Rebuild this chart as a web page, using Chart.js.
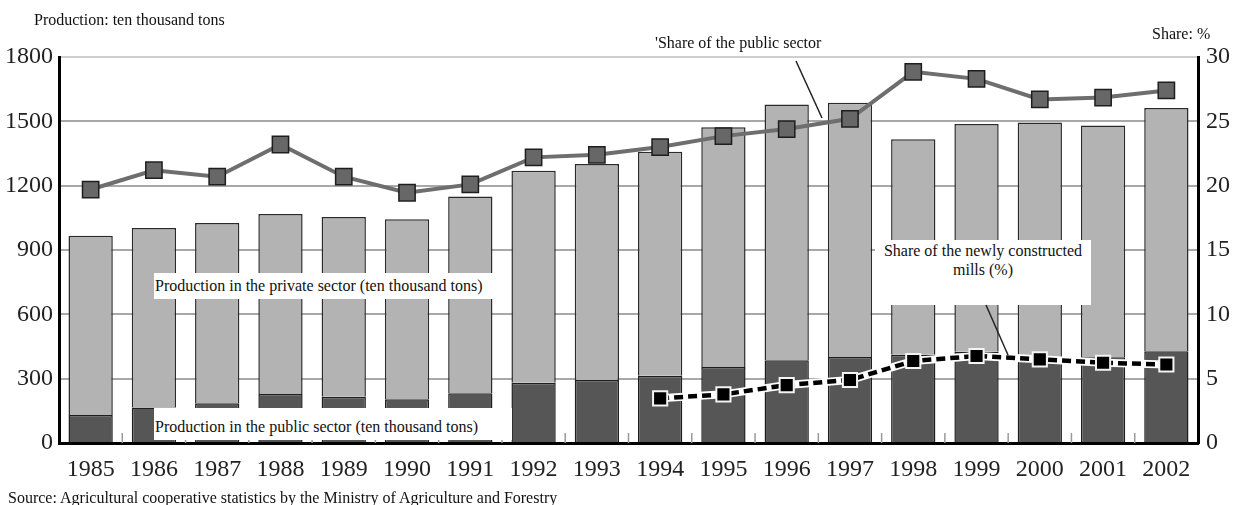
<!DOCTYPE html>
<html>
<head>
<meta charset="utf-8">
<script src="https://cdn.jsdelivr.net/npm/chart.js@4.4.1/dist/chart.umd.min.js"></script>
<style>
  html, body { margin: 0; padding: 0; background: #fff; }
  #wrap { position: relative; width: 1241px; height: 505px; overflow: hidden; font-family: "Liberation Serif", serif; color: #111; }
  #c { position: absolute; left: 0; top: 0; }
  .t { position: absolute; white-space: nowrap; line-height: 1; }
  .box { position: absolute; background: #fff; }
  svg { position: absolute; left: 0; top: 0; }
</style>
</head>
<body>
<div id="wrap">
  <canvas id="c" width="1241" height="505"></canvas>
  <div class="t" style="left:34px; top:12px; font-size:16px;">Production: ten thousand tons</div>
  <div class="t" style="left:1152px; top:26px; font-size:16px;">Share: %</div>
  <div class="t" style="left:655px; top:35px; font-size:16px;">'Share of the public sector</div>
  <div class="box" style="left:154px; top:273px; width:339px; height:26px;"></div>
  <div class="t" style="left:155px; top:278px; font-size:16px;">Production in the private sector (ten thousand tons)</div>
  <div class="box" style="left:154px; top:408px; width:358px; height:32px;"></div>
  <div class="t" style="left:155px; top:419px; font-size:16px;">Production in the public sector (ten thousand tons)</div>
  <div class="box" style="left:875px; top:240px; width:216px; height:65px;"></div>
  <div class="t" style="left:875px; width:216px; text-align:center; top:241px; font-size:16px; line-height:19px; white-space:normal;">Share of the newly constructed<br>mills (%)</div>
  <div class="t" style="left:8px; top:490px; font-size:16px;">Source: Agricultural cooperative statistics by the Ministry of Agriculture and Forestry</div>
  <svg width="1241" height="505">
    <line x1="796" y1="61" x2="822" y2="118" stroke="#222" stroke-width="1.5"/>
    <line x1="986" y1="305" x2="1008" y2="355" stroke="#222" stroke-width="1.5"/>
  </svg>
</div>
<script>
const years = ['1985','1986','1987','1988','1989','1990','1991','1992','1993','1994','1995','1996','1997','1998','1999','2000','2001','2002'];
const publicProduction = [130,165,185,228,216,204,232,281,294,314,354,386,401,412,426,395,400,428];
const privateProduction = [836,838,841,840,838,839,917,989,1007,1044,1118,1192,1186,1004,1061,1099,1080,1134];
const publicShare = [19.7,21.2,20.7,23.2,20.7,19.45,20.1,22.2,22.4,23.0,23.85,24.4,25.2,28.85,28.3,26.7,26.85,27.4];
const newMillsShare = [null,null,null,null,null,null,null,null,null,3.47,3.78,4.5,4.9,6.37,6.76,6.5,6.24,6.1];
const leftTicks = [0,300,600,900,1200,1500,1800];
const rightTicks = [0,5,10,15,20,25,30];

const tickFont = { family: 'Liberation Serif', size: 24 };

const boundaryTicks = {
  id: 'boundaryTicks',
  beforeDatasetsDraw(chart) {
    const x = chart.scales.x, ctx = chart.ctx, bottom = chart.chartArea.bottom;
    ctx.save();
    ctx.strokeStyle = '#9a9a9a';
    ctx.lineWidth = 1.5;
    for (let i = 1; i < years.length; i++) {
      const px = (x.getPixelForValue(i - 1) + x.getPixelForValue(i)) / 2;
      ctx.beginPath();
      ctx.moveTo(px, bottom - 10);
      ctx.lineTo(px, bottom);
      ctx.stroke();
    }
    ctx.restore();
  }
};

new Chart(document.getElementById('c'), {
  data: {
    labels: years,
    datasets: [
      { type: 'line', label: 'Share of the newly constructed mills (%)', data: newMillsShare, yAxisID: 'y2',
        borderColor: '#000', borderWidth: 4.5, borderDash: [9, 5], pointStyle: 'rect', pointRadius: 10,
        pointBackgroundColor: '#000', pointBorderColor: '#f4f4f4', pointBorderWidth: 2, order: 0, spanGaps: false },
      { type: 'line', label: 'outline', data: newMillsShare, yAxisID: 'y2',
        borderColor: '#fff', borderWidth: 8, pointRadius: 0, order: 1 },
      { type: 'line', label: 'Share of the public sector', data: publicShare, yAxisID: 'y2',
        borderColor: '#6e6e6e', borderWidth: 4, pointStyle: 'rect', pointRadius: 11.5,
        pointBackgroundColor: '#676767', pointBorderColor: '#1e1e1e', pointBorderWidth: 1.5, order: 0 },
      { type: 'bar', label: 'Production in the public sector (ten thousand tons)', data: publicProduction, yAxisID: 'y',
        backgroundColor: '#565656', borderColor: '#1e1e1e', borderWidth: 1.5, borderSkipped: 'start',
        barPercentage: 0.7, categoryPercentage: 1, order: 2, stack: 'prod' },
      { type: 'bar', label: 'Production in the private sector (ten thousand tons)', data: privateProduction, yAxisID: 'y',
        backgroundColor: '#b3b3b3', borderColor: '#2a2a2a', borderWidth: 1.5, borderSkipped: 'start',
        barPercentage: 0.7, categoryPercentage: 1, order: 2, stack: 'prod' }
    ]
  },
  options: {
    responsive: false,
    devicePixelRatio: 1,
    animation: false,
    layout: { padding: { top: 57, left: 0, right: 0, bottom: 0 } },
    plugins: { legend: { display: false }, tooltip: { enabled: false }, title: { display: false } },
    scales: {
      x: {
        stacked: true,
        grid: { display: false, drawTicks: false },
        border: { display: true, color: '#000', width: 3 },
        ticks: { font: tickFont, color: '#222', padding: 12, maxRotation: 0 },
        afterFit(s) { s.height = 62; }
      },
      y: {
        stacked: true, position: 'left', min: 0, max: 1800,
        afterBuildTicks(s) { s.ticks = leftTicks.map(v => ({ value: v })); },
        grid: { color: (c) => c.tick && c.tick.value === 1800 ? '#cfcfcf' : '#a8a8a8', lineWidth: 2, drawTicks: false },
        border: { display: true, color: '#000', width: 3 },
        ticks: { font: tickFont, color: '#222', padding: 6, callback: (v) => String(v) },
        afterFit(s) { s.width = 59; }
      },
      y2: {
        position: 'right', min: 0, max: 30,
        afterBuildTicks(s) { s.ticks = rightTicks.map(v => ({ value: v })); },
        grid: { drawOnChartArea: false, drawTicks: false },
        border: { display: true, color: '#000', width: 3 },
        ticks: { font: tickFont, color: '#222', padding: 8, callback: (v) => String(v) },
        afterFit(s) { s.width = 43; }
      }
    }
  },
  plugins: [boundaryTicks]
});
</script>
</body>
</html>
